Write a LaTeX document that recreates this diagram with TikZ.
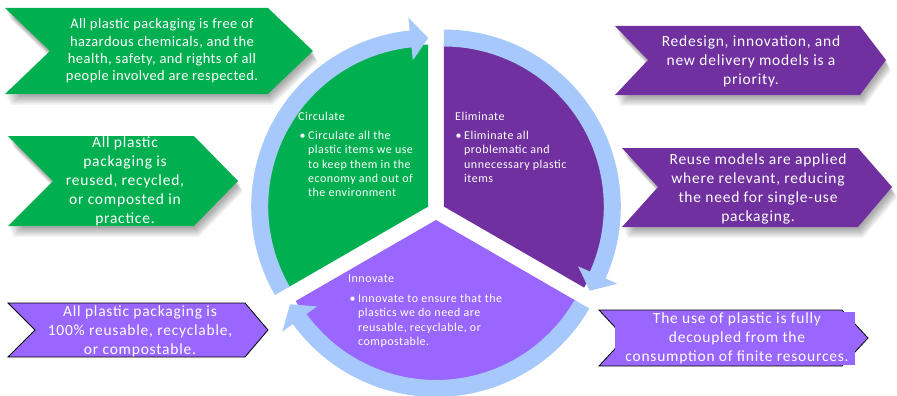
\documentclass[tikz,border=0pt]{standalone}
\usepackage{fontspec}
\setmainfont{Carlito}
\definecolor{cgreen}{HTML}{00B050}
\definecolor{cdpurple}{HTML}{7030A0}
\definecolor{clpurple}{HTML}{9966FF}
\definecolor{cring}{HTML}{A6C8FA}
\newcommand\ringarrow[3]{%
  \begin{scope}[shift={(#1:9)}]
    \fill[cring] (#2:177) arc[start angle=#2, end angle={#3+6}, radius=177]
      -- ({#3+6}:190) -- (#3:168.5) -- ({#3+6}:147) -- ({#3+6}:160)
      arc[start angle={#3+6}, end angle=#2, radius=160] -- cycle;
  \end{scope}}
\newcommand\chevshadow[1]{%
  \foreach \k in {0,...,8}{\fill[black, opacity=0.045, xshift={\k*0.5pt+1pt}, yshift={-\k*1.1pt-2pt}] #1;}}
\newcommand\bul{\llap{\textbullet\hspace{2.5pt}}}
\begin{document}
\begin{tikzpicture}[x=1pt,y=-1pt,
  ctext/.style={text=white, align=center, inner sep=0pt, font=\fontsize{15.5}{19}\selectfont\addfontfeature{LetterSpace=5}},
  stitle/.style={text=white, inner sep=0pt, anchor=west, font=\fontsize{12}{14.3}\selectfont\addfontfeature{LetterSpace=4}},
  stext/.style={text=white, align=left, inner sep=0pt, anchor=north west, font=\fontsize{12}{14.3}\selectfont\addfontfeature{LetterSpace=4}}]
\useasboundingbox (0,0) rectangle (897,396);

% left chevrons
\chevshadow{(5,8) -- (268,8) -- (313,51) -- (268,94) -- (5,94) -- (50,51) -- cycle}
\fill[cgreen] (5,8) -- (268,8) -- (313,51) -- (268,94) -- (5,94) -- (50,51) -- cycle;
\node[ctext, font=\fontsize{14.5}{17.3}\selectfont\addfontfeature{LetterSpace=3}] (c1) at (162,51) {All plastic packaging is free of\\hazardous chemicals, and the\\health, safety, and rights of all\\people involved are respected.};

\chevshadow{(8,136) -- (194,136) -- (238,181) -- (194,226) -- (8,226) -- (53,181) -- cycle}
\fill[cgreen] (8,136) -- (194,136) -- (238,181) -- (194,226) -- (8,226) -- (53,181) -- cycle;
\node[ctext] (c2) at (125,181) {All plastic\\packaging is\\reused, recycled,\\or composted in\\practice.};

\filldraw[fill=clpurple, draw=black, line width=0.8pt] (8,303) -- (245,303) -- (268,330) -- (245,357) -- (8,357) -- (35,330) -- cycle;
\node[ctext] (c3) at (140,331) {All plastic packaging is\\100\% reusable, recyclable,\\or compostable.};

% right chevrons
\chevshadow{(615,26) -- (860,26) -- (886,60) -- (860,95) -- (615,95) -- (648,60) -- cycle}
\fill[cdpurple] (615,26) -- (860,26) -- (886,60) -- (860,95) -- (615,95) -- (648,60) -- cycle;
\node[ctext] (c4) at (751,61) {Redesign, innovation, and\\new delivery models is a\\priority.};

\chevshadow{(622,148) -- (858,148) -- (892,187) -- (858,227) -- (622,227) -- (658,187) -- cycle}
\fill[cdpurple] (622,148) -- (858,148) -- (892,187) -- (858,227) -- (622,227) -- (658,187) -- cycle;
\node[ctext] (c5) at (758,189) {Reuse models are applied\\where relevant, reducing\\the need for single-use\\packaging.};

\filldraw[fill=clpurple, draw=black, line width=0.8pt] (599,310) -- (842,310) -- (868,338) -- (842,366) -- (599,366) -- (625,338) -- cycle;
\fill[clpurple] (615,312) rectangle (855,365);
\node[ctext] (c6) at (737,338) {The use of plastic is fully\\decoupled from the\\consumption of finite resources.};

% wheel
\begin{scope}[shift={(436,211)}, y=1pt]
  \begin{scope}[shift={(150:9)}]
    \fill[cgreen] (0,0) -- (90:162) arc[start angle=90, end angle=210, radius=162] -- cycle;
  \end{scope}
  \begin{scope}[shift={(30:9)}]
    \fill[cdpurple] (0,0) -- (-30:162) arc[start angle=-30, end angle=90, radius=162] -- cycle;
  \end{scope}
  \begin{scope}[shift={(-90:9)}]
    \fill[clpurple] (0,0) -- (-150:162) arc[start angle=-150, end angle=-30, radius=162] -- cycle;
  \end{scope}
  \ringarrow{150}{210}{90}
  \ringarrow{30}{90}{-30}
  \ringarrow{-90}{-30}{-150}
\end{scope}

% sector texts
\node[stitle] (t1) at (298,116) {Circulate};
\node[stext] (x1) at (308,131) {\bul Circulate all the\\plastic items we use\\to keep them in the\\economy and out of\\the environment};

\node[stitle] (t2) at (455,116) {Eliminate};
\node[stext] (x2) at (464,131) {\bul Eliminate all\\problematic and\\unnecessary plastic\\items};

\node[stitle] (t3) at (348,279) {Innovate};
\node[stext] (x3) at (358,294) {\bul Innovate to ensure that the\\plastics we do need are\\reusable, recyclable, or\\compostable.};
\end{tikzpicture}
\end{document}
